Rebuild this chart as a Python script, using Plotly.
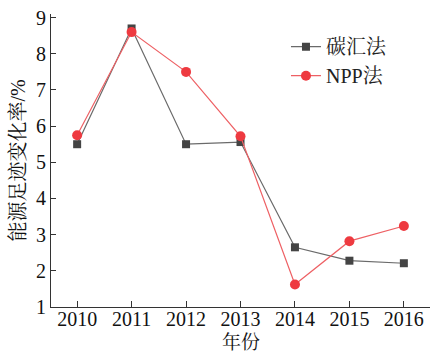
import plotly.graph_objects as go

# Energy footprint change rate by year, two calculation methods
years = [2010, 2011, 2012, 2013, 2014, 2015, 2016]
carbon_sink = [5.5, 8.7, 5.5, 5.56, 2.65, 2.28, 2.21]
npp = [5.75, 8.6, 7.5, 5.72, 1.62, 2.82, 3.24]

font_family = "Liberation Serif, Times New Roman, Noto Serif CJK SC, Noto Sans CJK SC, serif"

fig = go.Figure()
fig.add_trace(go.Scatter(
    x=years, y=carbon_sink, name="碳汇法", mode="lines+markers",
    line=dict(color="#6a6a6a", width=1.2),
    marker=dict(symbol="square", size=8, color="#444444"),
))
fig.add_trace(go.Scatter(
    x=years, y=npp, name="NPP法", mode="lines+markers",
    line=dict(color="#ee6064", width=1.2),
    marker=dict(symbol="circle", size=10, color="#ee3a40"),
))

# x-axis title placed as an annotation so it sits below the tick labels
fig.add_annotation(
    text="年份", xref="paper", yref="paper", x=0.5, y=0,
    xanchor="center", yanchor="bottom", yshift=-47, showarrow=False,
    borderpad=0, font=dict(size=19, color="#111111"),
)

fig.update_layout(
    width=430, height=352,
    margin=dict(l=51, r=0, t=14, b=45),
    paper_bgcolor="white", plot_bgcolor="white",
    font=dict(family=font_family, size=20, color="#111111"),
    showlegend=True,
    legend=dict(
        x=0.62, y=0.955, xanchor="left", yanchor="top",
        bgcolor="rgba(0,0,0,0)", borderwidth=0,
        font=dict(size=20, color="#222222"),
        itemwidth=30, tracegroupgap=0,
    ),
    xaxis=dict(
        range=[2009.52, 2016.48], tickmode="array", tickvals=years,
        ticktext=[str(y) for y in years],
        showline=True, linecolor="#333333", linewidth=1.2,
        ticks="inside", ticklen=6, tickcolor="#333333",
        ticklabelstandoff=-6,
        showgrid=False, zeroline=False,
    ),
    yaxis=dict(
        range=[1, 9.1], tickmode="array", tickvals=list(range(1, 10)),
        showline=True, linecolor="#333333", linewidth=1.2,
        ticks="inside", ticklen=5, tickcolor="#333333",
        showgrid=False, zeroline=False,
        title=dict(text="能源足迹变化率/%", font=dict(size=20), standoff=4),
    ),
)

fig.write_html("out.html")
